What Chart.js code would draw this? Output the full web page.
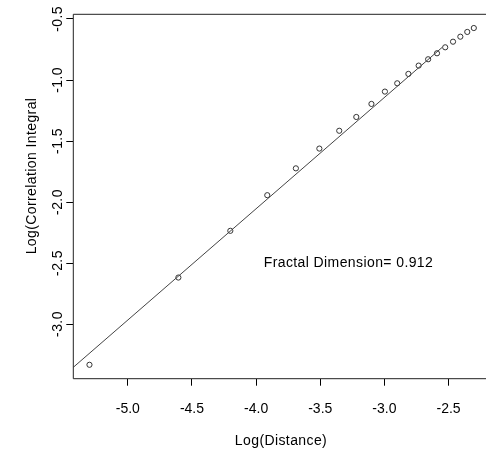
<!DOCTYPE html>
<html>
<head>
<meta charset="utf-8">
<script src="https://cdn.jsdelivr.net/npm/chart.js@4.4.1/dist/chart.umd.min.js"></script>
<style>
  html, body { margin: 0; padding: 0; background: #fff; overflow: hidden; }
  canvas { display: block; }
</style>
</head>
<body>
<canvas id="dimension_chart" width="486" height="451"></canvas>
<script>
// log of the radius and log of the correlation sum
var log_distance = [-5.299, -4.606, -4.201, -3.913, -3.690, -3.507, -3.352, -3.219, -3.101, -2.996,
    -2.900, -2.813, -2.733, -2.659, -2.590, -2.526, -2.465, -2.408, -2.354, -2.303];
var log_correlation = [-3.334, -2.619, -2.236, -1.944, -1.724, -1.562, -1.416, -1.303, -1.196, -1.095,
    -1.027, -0.950, -0.882, -0.830, -0.781, -0.732, -0.686, -0.645, -0.606, -0.574];
var x_ticks = [-5.0, -4.5, -4.0, -3.5, -3.0, -2.5];
var y_ticks = [-3.0, -2.5, -2.0, -1.5, -1.0, -0.5];

// fitted line over the scaling region
var fit_slope = 0.912;
var fit_intercept = 1.593;
var fit_range = [-5.425, -2.55];

var text_font = '14px "Liberation Sans", Arial, sans-serif';

Chart.defaults.font.family = '"Liberation Sans", Arial, sans-serif';
Chart.defaults.font.size = 14;
Chart.defaults.color = '#000';

var points = [];
for (var i = 0; i < log_distance.length; i++) {
    points.push({x: log_distance[i], y: log_correlation[i]});
}
var fit_points = fit_range.map(function(x){
    return {x: x, y: fit_slope * x + fit_intercept};
});

// frame (right side runs past the canvas edge), rotated y labels, titles, slope note
var plotText = {
    id: 'plotText',
    afterDraw: function(chart){
        var ctx = chart.ctx;
        var area = chart.chartArea;
        var yScale = chart.scales.y;
        var xScale = chart.scales.x;
        ctx.save();
        ctx.strokeStyle = '#222';
        ctx.lineWidth = 1;
        ctx.beginPath();
        ctx.moveTo(area.right + 5, area.top);
        ctx.lineTo(area.left, area.top);
        ctx.lineTo(area.left, area.bottom);
        ctx.lineTo(area.right + 5, area.bottom);
        ctx.stroke();

        ctx.fillStyle = '#000';
        ctx.font = text_font;
        ctx.letterSpacing = '0.4px';
        ctx.textAlign = 'center';
        ctx.textBaseline = 'middle';
        y_ticks.forEach(function(v){
            ctx.save();
            ctx.translate(58, yScale.getPixelForValue(v));
            ctx.rotate(-Math.PI / 2);
            ctx.fillText(v.toFixed(1), 0, 0);
            ctx.restore();
        });

        ctx.fillText('Log(Distance)', 281, 441);

        ctx.save();
        ctx.translate(32, 176);
        ctx.rotate(-Math.PI / 2);
        ctx.fillText('Log(Correlation Integral', 0, 0);
        ctx.restore();

        ctx.fillText('Fractal Dimension= ' + fit_slope.toFixed(3),
            xScale.getPixelForValue(-3.28), yScale.getPixelForValue(-2.5));
        ctx.restore();
    }
};

var chart_ctx = document.getElementById('dimension_chart').getContext('2d');
var chart1 = new Chart(chart_ctx, {
    type: 'scatter',
    data: {
        datasets: [{
            data: fit_points,
            showLine: true,
            borderColor: '#444',
            borderWidth: 1,
            pointRadius: 0
        }, {
            data: points,
            pointStyle: 'circle',
            pointRadius: 2.6,
            borderWidth: 1,
            borderColor: '#333',
            backgroundColor: 'rgba(0,0,0,0)'
        }]
    },
    options: {
        responsive: false,
        animation: false,
        devicePixelRatio: 1,
        layout: { autoPadding: false, padding: { left: 0, top: 14.3, right: 0, bottom: 0 } },
        plugins: { legend: { display: false }, tooltip: { enabled: false } },
        scales: {
            x: {
                type: 'linear',
                min: -5.425,
                max: -2.208,
                afterBuildTicks: function(scale){
                    scale.ticks = x_ticks.map(function(v){ return {value: v}; });
                },
                afterFit: function(scale){
                    scale.height = 72.3;
                    scale.paddingRight = 0;
                },
                grid: { drawOnChartArea: false, drawTicks: true, tickLength: 7, tickColor: '#000' },
                border: { display: false },
                ticks: {
                    color: '#000',
                    padding: 15,
                    maxRotation: 0,
                    callback: function(v){ return v.toFixed(1); }
                }
            },
            y: {
                type: 'linear',
                min: -3.448,
                max: -0.4615,
                afterBuildTicks: function(scale){
                    scale.ticks = y_ticks.map(function(v){ return {value: v}; });
                },
                afterFit: function(scale){ scale.width = 73.3; },
                grid: { drawOnChartArea: false, drawTicks: true, tickLength: 7, tickColor: '#000' },
                border: { display: false },
                ticks: { display: false }
            }
        }
    },
    plugins: [plotText]
});
</script>
</body>
</html>
